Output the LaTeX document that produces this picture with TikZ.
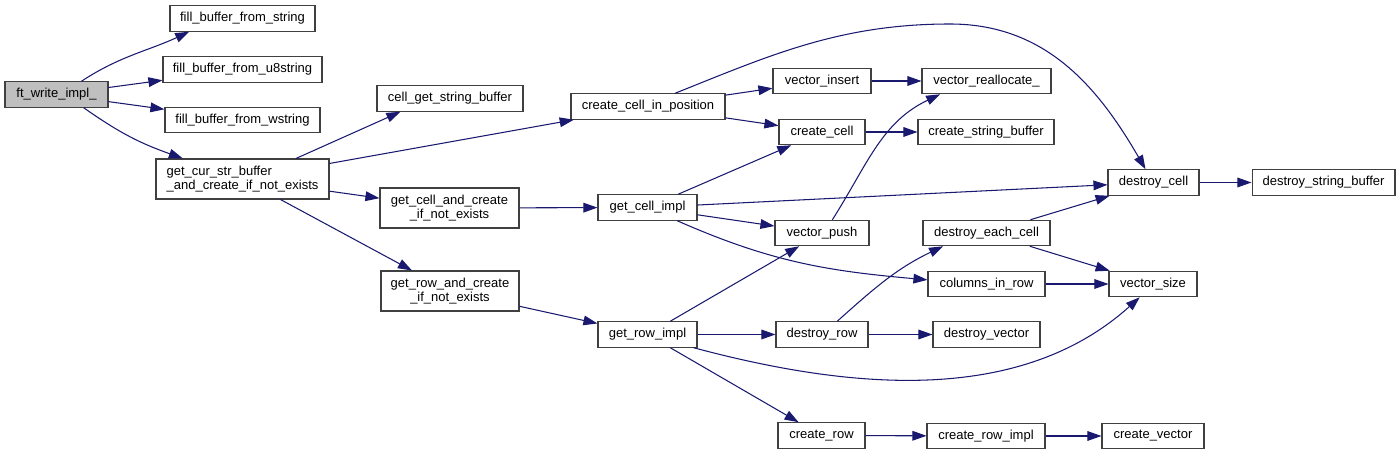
\documentclass[tikz,border=0pt]{standalone}
\usepackage{fontspec}
\setmainfont{Liberation Sans}
\usetikzlibrary{arrows.meta}

\begin{document}
\begin{tikzpicture}[x=0.02cm, y=-0.02cm,
  fn/.style={draw=boxline, line width=0.6pt, minimum height=0.51cm, inner sep=1pt, font=\fontsize{7.4}{7.8}\selectfont},
  fntwo/.style={fn, minimum height=0.8cm},
  link/.style={draw=edgeblue, line width=0.6pt, -{Triangle[length=8pt,width=5.5pt]}}]
  \definecolor{edgeblue}{HTML}{191970}
  \definecolor{boxline}{HTML}{404040}
  \definecolor{rootgray}{HTML}{BFBFBF}

  \useasboundingbox (0,0) rectangle (1400,455);

  \node[fn, fill=rootgray, minimum width=2.06cm] (ftwrite) at (56.5,94.5) {ft\_write\_impl\_};

  \node[fn, minimum width=2.90cm] (fillstr) at (242.5,18.5) {fill\_buffer\_from\_string};
  \node[fn, minimum width=3.18cm] (fillutf) at (242.5,69.5) {fill\_buffer\_from\_u8string};
  \node[fn, minimum width=3.10cm] (fillwstr) at (242.5,120) {fill\_buffer\_from\_wstring};
  \node[fntwo, minimum width=3.46cm, align=left] (getcur) at (242.5,179) {get\_cur\_str\_buffer\\\_and\_create\_if\_not\_exists};

  \node[fn, minimum width=2.92cm] (cellbuf) at (450,98.5) {cell\_get\_string\_buffer};
  \node[fntwo, minimum width=2.78cm, align=center] (getcellc) at (449.5,208) {get\_cell\_and\_create\\\_if\_not\_exists};
  \node[fntwo, minimum width=2.76cm, align=center] (getrowc) at (450,291) {get\_row\_and\_create\\\_if\_not\_exists};

  \node[fn, minimum width=3.08cm] (createpos) at (648,106.5) {create\_cell\_in\_position};
  \node[fn, minimum width=1.98cm] (getcell) at (647.5,207.5) {get\_cell\_impl};
  \node[fn, minimum width=1.98cm] (getrow) at (647.5,334.5) {get\_row\_impl};

  \node[fn, minimum width=1.96cm] (vecinsert) at (822,81) {vector\_insert};
  \node[fn, minimum width=1.72cm] (createcell) at (822,132) {create\_cell};
  \node[fn, minimum width=1.88cm] (vecpush) at (822,233) {vector\_push};
  \node[fn, minimum width=1.84cm] (destroyrow) at (822,334.5) {destroy\_row};
  \node[fn, minimum width=1.74cm] (createrow) at (821.5,435.5) {create\_row};

  \node[fn, minimum width=2.58cm] (vecrealloc) at (986.5,81) {vector\_reallocate\_};
  \node[fn, minimum width=2.72cm] (createsbuf) at (986,132) {create\_string\_buffer};
  \node[fn, minimum width=2.54cm] (destroyeach) at (986.5,233) {destroy\_each\_cell};
  \node[fn, minimum width=2.34cm] (colsinrow) at (986.5,284) {columns\_in\_row};
  \node[fn, minimum width=2.14cm] (destroyvec) at (986.5,334.5) {destroy\_vector};
  \node[fn, minimum width=2.36cm] (createrowi) at (986,436) {create\_row\_impl};

  \node[fn, minimum width=1.82cm] (destroycell) at (1153.5,182.5) {destroy\_cell};
  \node[fn, minimum width=1.76cm] (vecsize) at (1153,284) {vector\_size};
  \node[fn, minimum width=2.04cm] (createvec) at (1153,436) {create\_vector};
  \node[fn, minimum width=2.86cm] (destroysbuf) at (1323.5,182.5) {destroy\_string\_buffer};

  \coordinate (arcpeak) at (950,24);

  \draw[link] (ftwrite.28) .. controls +(38,-25) and +(-41,19) .. (fillstr.194);
  \draw[link] (ftwrite) -- (fillutf);
  \draw[link] (ftwrite) -- (fillwstr);
  \draw[link] (ftwrite.-26) .. controls +(37,26) and +(-42,-15) .. (getcur.161);

  \draw[link] (getcur.21) -- (cellbuf.195.5);
  \draw[link] (getcur) -- (createpos);
  \draw[link] (getcur) -- (getcellc);
  \draw[link] (getcur) -- (getrowc);

  \draw[link] (getcellc) -- (getcell);
  \draw[link] (getrowc) -- (getrow);

  \draw[link] (createpos) -- (vecinsert);
  \draw[link] (createpos) -- (createcell);
  \draw[link] (createpos.26) .. controls +(95,-38) and +(-110,0) .. (arcpeak) .. controls +(95,0) and +(-48,-83) .. (destroycell.121);

  \draw[link] (getcell) -- (createcell);
  \draw[link] (getcell) -- (destroycell);
  \draw[link] (getcell) -- (vecpush);
  \draw[link] (getcell.-24.4) .. controls +(93,41) and +(-101,-9) .. (colsinrow.176);

  \draw[link] (getrow) -- (vecpush);
  \draw[link] (getrow) -- (destroyrow);
  \draw[link] (getrow.-16) .. controls +(157,42) and +(-120,108) .. (vecsize.225);
  \draw[link] (getrow) -- (createrow);

  \draw[link] (vecinsert) -- (vecrealloc);
  \draw[link] (createcell) -- (createsbuf);
  \draw[link] (vecpush.52) .. controls +(35,-55) and +(-59,28) .. (vecrealloc.196);
  \draw[link] (destroyrow.41) .. controls +(38,-34) and +(-46,22) .. (destroyeach.197);
  \draw[link] (destroyrow) -- (destroyvec);
  \draw[link] (createrow) -- (createrowi);

  \draw[link] (destroyeach) -- (destroycell);
  \draw[link] (destroyeach) -- (vecsize);
  \draw[link] (colsinrow) -- (vecsize);
  \draw[link] (createrowi) -- (createvec);

  \draw[link] (destroycell) -- (destroysbuf);
\end{tikzpicture}
\end{document}
